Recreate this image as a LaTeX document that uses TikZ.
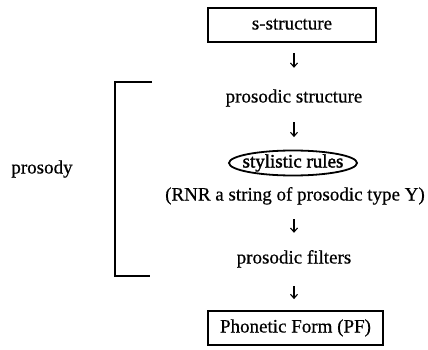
\documentclass[tikz,border=0pt]{standalone}
\usepackage{fontspec}
\setmainfont{Liberation Serif}[FakeBold=0.6]
\newfontfamily\heavyfont{Liberation Serif}[FakeBold=1.6]
\usetikzlibrary{arrows.meta,shapes.geometric}
\begin{document}
\begin{tikzpicture}[x=1pt,y=-1pt,
  txt/.style={inner sep=0pt, text height=13pt, text depth=4pt, font=\fontsize{19}{23}\selectfont},
  boxed/.style={txt, draw, line width=1.8pt, minimum height=34pt},
  oval/.style={draw, ellipse, line width=1.8pt, inner sep=0pt, minimum width=128pt, minimum height=25pt},
  bracket/.style={line width=1.8pt},
  arr/.style={line width=1.1pt, -{Straight Barb[length=4pt,width=7pt]}}]
\useasboundingbox (0,0) rectangle (428,350);
\node[boxed, minimum width=168pt] (s) at (292,25) {s-structure};
\node[txt] (ps) at (294,98) {prosodic structure};
\node[oval] (sr) at (293,163) {};
\node[txt, font=\fontsize{19}{23}\heavyfont] (srt) at (sr) {stylistic rules};
\node[txt] (rnr) at (295,196) {(RNR a string of prosodic type Y)};
\node[txt] (pf) at (294,259) {prosodic filters};
\node[boxed, minimum width=175pt] (PF) at (295.5,328) {Phonetic Form (PF)};
\node[txt] (pr) at (42,169) {prosody};
\coordinate (bt) at (152,82);
\coordinate (bb) at (150,276);
\draw[bracket] (bt) -- (115,82) -- (115,276) -- (bb);
\draw[arr, shorten <=10pt, shorten >=21.5pt] (ps.north |- s.south) -- (ps.north);
\draw[arr, shorten <=15.5pt, shorten >=12.5pt] (ps.south) -- (ps.south |- sr.north);
\draw[arr, shorten <=14.5pt, shorten >=17.5pt] (pf.north |- rnr.south) -- (pf.north);
\draw[arr, shorten <=18.5pt, shorten >=11pt] (pf.south) -- (pf.south |- PF.north);
\end{tikzpicture}
\end{document}
